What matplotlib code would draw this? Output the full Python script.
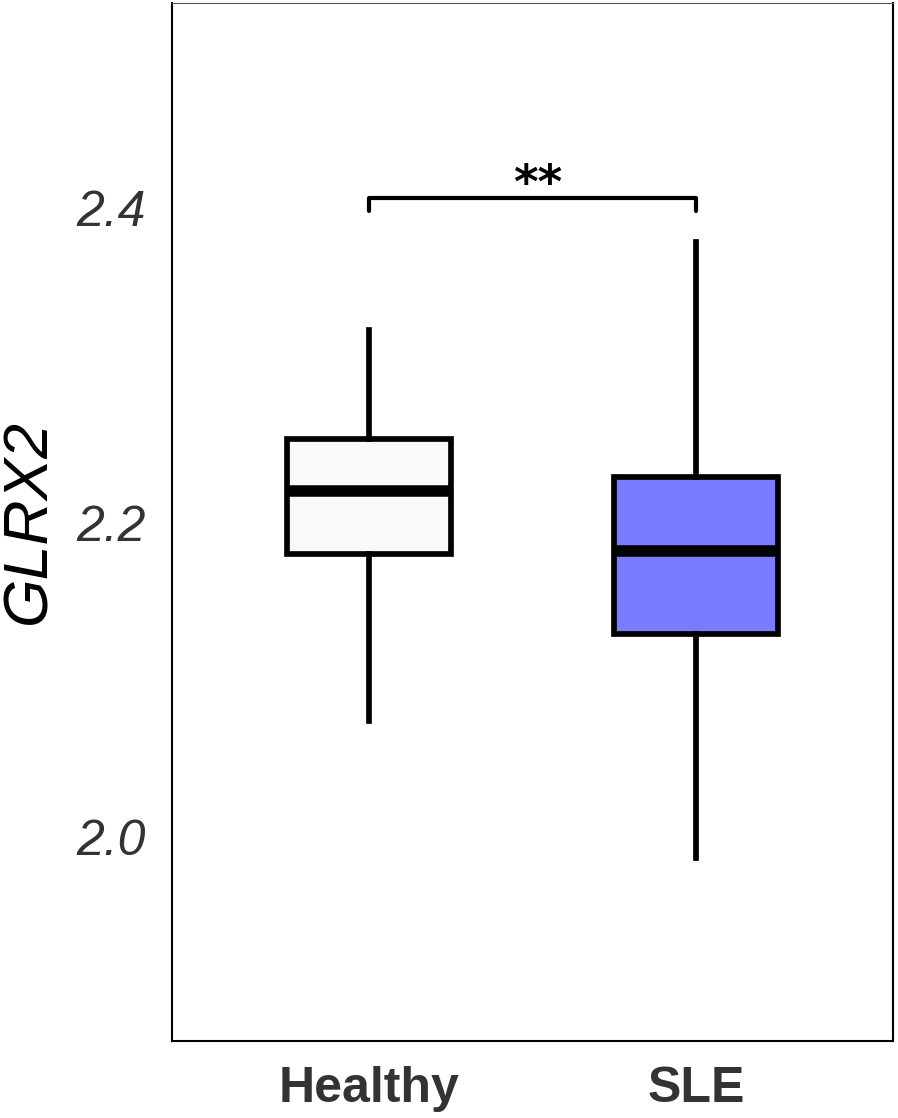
import matplotlib.pyplot as plt

# box statistics
groups = ['Healthy', 'SLE']
whisker_low = [2.074, 1.987]
q1 = [2.180, 2.129]
medians = [2.220, 2.182]
q3 = [2.253, 2.229]
whisker_high = [2.322, 2.378]
box_colors = ['#F9F9F9', '#7B7BFF']
y_ticks = [2.0, 2.2, 2.4]

# significance bracket
bracket_y = 2.406
bracket_drop = 0.008
sig_label = '**'

plt.rcParams['font.family'] = ['Liberation Sans', 'DejaVu Sans']

fig = plt.figure(figsize=(8.98, 11.18), dpi=100)
ax = fig.add_axes([0.1915, 0.0689, 0.8029, 0.9284])

stats = []
for i, g in enumerate(groups):
    stats.append({'label': g, 'whislo': whisker_low[i], 'q1': q1[i], 'med': medians[i],
                  'q3': q3[i], 'whishi': whisker_high[i], 'fliers': []})

bp = ax.bxp(stats, positions=[1, 2], widths=0.5, patch_artist=True, showcaps=False,
            showfliers=False,
            boxprops=dict(linewidth=4.1, edgecolor='black'),
            whiskerprops=dict(linewidth=4.1, color='black'),
            medianprops=dict(linewidth=8.3, color='black', solid_capstyle='butt'))
for patch, c in zip(bp['boxes'], box_colors):
    patch.set_facecolor(c)

# bracket + stars
ax.plot([1, 1, 2, 2], [bracket_y - bracket_drop, bracket_y, bracket_y, bracket_y - bracket_drop],
        color='black', linewidth=3, solid_capstyle='round', solid_joinstyle='round')
ax.text(1.515, bracket_y - 0.0065, sig_label, ha='center', va='bottom', fontsize=34,
        fontweight='bold', family='DejaVu Sans')

ax.set_xlim(0.4, 2.6)
ax.set_ylim(1.8707, 2.530)
ax.set_yticks(y_ticks)
ax.set_yticklabels([f'{v:.1f}' for v in y_ticks], fontsize=36, fontstyle='italic',
                   color='#333333')
ax.set_xticks([1, 2])
ax.set_xticklabels(groups, fontsize=36, fontweight='bold', color='#333333')
ax.tick_params(axis='both', length=0)
ax.tick_params(axis='y', pad=19)
ax.tick_params(axis='x', pad=18)
ax.set_ylabel('GLRX2', fontsize=45, fontstyle='italic', labelpad=13)

for side in ['left', 'right', 'bottom']:
    ax.spines[side].set_linewidth(1.5)
ax.spines['top'].set_linewidth(0.8)
ax.spines['top'].set_color('#555555')

fig.savefig('out.png', dpi=100)
